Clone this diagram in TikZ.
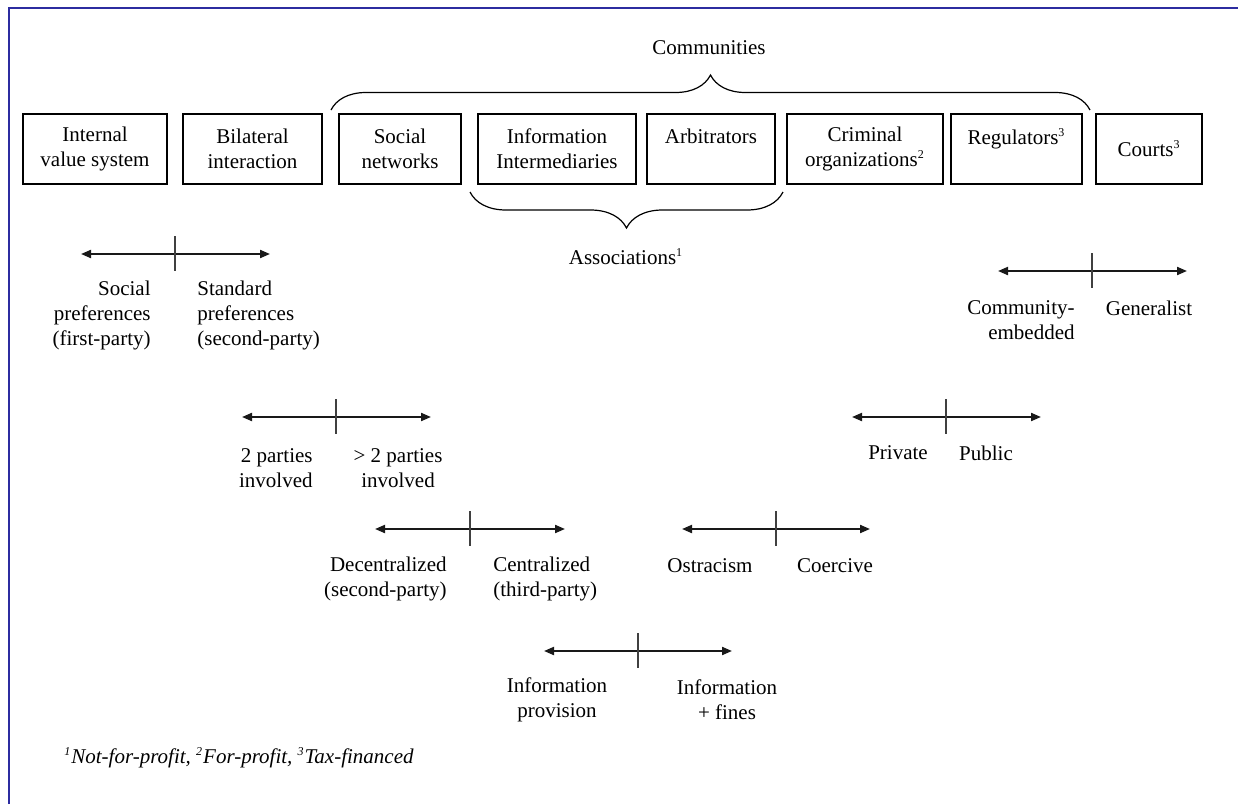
\documentclass[tikz,border=0pt]{standalone}
\usepackage{fontspec}
\setmainfont{Liberation Serif}
\usetikzlibrary{arrows.meta, decorations.pathreplacing}

\definecolor{framecol}{RGB}{44,44,160}
\newcommand{\fnmark}[1]{\textsuperscript{\fontsize{6}{6}\selectfont #1}}

\tikzset{
    box/.style={draw, line width=0.75pt, minimum height=35pt, align=center, inner sep=2pt},
    lbl/.style={inner sep=0pt},
    twoway/.style={line width=1pt, black!90, {Triangle[length=5pt,width=4pt]}-{Triangle[length=5pt,width=4pt]}},
    tickmark/.style={line width=0.8pt, black!75},
    curly/.style={decorate, decoration={brace, amplitude=#1}, line width=0.6pt}
}

\begin{document}
\begin{tikzpicture}[x=0.5pt, y=-0.5pt, every node/.style={font=\fontsize{10.5}{12.5}\selectfont}]
    \useasboundingbox (0,0) rectangle (1238,804);
    % Frame
    \draw[framecol, line width=1.2pt] (9,804) -- (9,8) -- (1238,8);

    % Define boxes
    \node[box, minimum width=72pt] (IVS) at (95,149) {Internal\\value system};
    \node[box, minimum width=69.5pt] (BI) at (252.5,149) {Bilateral\\interaction};
    \node[box, minimum width=61pt] (SN) at (400,149) {Social\\networks};
    \node[box, minimum width=79pt] (II) at (557,149) {Information\\Intermediaries};
    \node[box, minimum width=64pt] (AR) at (711,149) {Arbitrators\\\phantom{x}};
    \node[box, minimum width=78pt] (CO) at (865,149) {Criminal\\organizations\fnmark{2}};
    \node[box, minimum width=65.5pt] (RE) at (1016.5,149) {Regulators\fnmark{3}\\\phantom{x}};
    \node[box, minimum width=53pt] (CT) at (1149,149) {Courts\fnmark{3}};

    % Braces
    \coordinate (comL) at (331,110);
    \coordinate (comR) at (1090,110);
    \draw[curly=17.5pt] (comL) -- (comR);
    \node (com) at (709,48) {Communities};

    \coordinate (assL) at (470,192);
    \coordinate (assR) at (783,192);
    \draw[curly=18pt] (assR) -- (assL);
    \node (ass) at (626,257) {Associations\fnmark{1}};

    % Scales
    \coordinate (SPl) at (81,254);
    \coordinate (SPm) at (175,254);
    \coordinate (SPr) at (270,254);
    \draw[twoway] (SPl) -- (SPr);
    \draw[tickmark] (SPm) ++(0,-18) -- ++(0,35);
    \node[lbl, anchor=east, align=right] (SPa) at (151,315) {Social\\preferences\\(first-party)};
    \node[lbl, anchor=west, align=left] (SPb) at (197,315) {Standard\\preferences\\(second-party)};

    \coordinate (NPl) at (242,417);
    \coordinate (NPm) at (336,417);
    \coordinate (NPr) at (431,417);
    \draw[twoway] (NPl) -- (NPr);
    \draw[tickmark] (NPm) ++(0,-18) -- ++(0,35);
    \node[lbl, anchor=east, align=right] (NPa) at (313,468) {2 parties\\involved};
    \node[lbl, align=center] (NPb) at (398,468) {> 2 parties\\involved};

    \coordinate (DCl) at (375,529);
    \coordinate (DCm) at (470,529);
    \coordinate (DCr) at (565,529);
    \draw[twoway] (DCl) -- (DCr);
    \draw[tickmark] (DCm) ++(0,-18) -- ++(0,35);
    \node[lbl, anchor=east, align=right] (DCa) at (447,579) {Decentralized\\(second-party)};
    \node[lbl, anchor=west, align=left] (DCb) at (493,579) {Centralized\\(third-party)};

    \coordinate (IFl) at (544,651);
    \coordinate (IFm) at (638,651);
    \coordinate (IFr) at (732,651);
    \draw[twoway] (IFl) -- (IFr);
    \draw[tickmark] (IFm) ++(0,-18) -- ++(0,35);
    \node[lbl, align=center] (IFa) at (557,700) {Information\\provision};
    \node[lbl, align=center] (IFb) at (727,700) {Information\\+ fines};

    \coordinate (OCl) at (682,529);
    \coordinate (OCm) at (776,529);
    \coordinate (OCr) at (870,529);
    \draw[twoway] (OCl) -- (OCr);
    \draw[tickmark] (OCm) ++(0,-18) -- ++(0,35);
    \node[lbl] (OCa) at (710,566) {Ostracism};
    \node[lbl] (OCb) at (835,566) {Coercive};

    \coordinate (PPl) at (852,417);
    \coordinate (PPm) at (946,417);
    \coordinate (PPr) at (1041,417);
    \draw[twoway] (PPl) -- (PPr);
    \draw[tickmark] (PPm) ++(0,-18) -- ++(0,35);
    \node[lbl] (PPa) at (898,453) {Private};
    \node[lbl] (PPb) at (986,453) {Public};

    \coordinate (CGl) at (998,271);
    \coordinate (CGm) at (1092,271);
    \coordinate (CGr) at (1187,271);
    \draw[twoway] (CGl) -- (CGr);
    \draw[tickmark] (CGm) ++(0,-18) -- ++(0,35);
    \node[lbl, anchor=east, align=right] (CGa) at (1075,320) {Community-\\embedded};
    \node[lbl] (CGb) at (1149,308) {Generalist};

    % Footnote
    \node[lbl, anchor=west] (note) at (64,758) {\itshape\fnmark{1}Not-for-profit, \fnmark{2}For-profit, \fnmark{3}Tax-financed};
\end{tikzpicture}
\end{document}
